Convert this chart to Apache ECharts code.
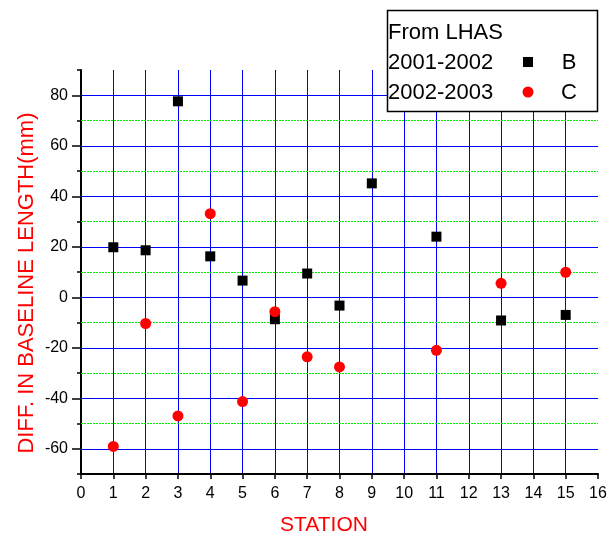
<!DOCTYPE html>
<html>
<head>
<meta charset="utf-8">
<script src="https://cdn.jsdelivr.net/npm/echarts@6/dist/echarts.min.js"></script>
<style>html,body{margin:0;padding:0;background:#fff;}#c{width:607px;height:535px;}</style>
</head>
<body>
<div id="c"></div>
<script>
const stationsB = [1, 2, 3, 4, 5, 6, 7, 8, 9, 11, 13, 15];
const valuesB = [19.8, 18.6, 77.6, 16.2, 6.6, -8.7, 9.4, -3.3, 45.1, 24.0, -9.2, -7.0];
const stationsC = [1, 2, 3, 4, 5, 6, 7, 8, 11, 13, 15];
const valuesC = [-59.1, -10.4, -47.0, 33.1, -41.3, -5.7, -23.6, -27.6, -21.0, 5.5, 9.9];
const majorY = [-60, -40, -20, 0, 20, 40, 60, 80];
const minorY = [-50, -30, -10, 10, 30, 50, 70];
const legendTitle = 'From LHAS';
const legendRows = [['2001-2002', 'B'], ['2002-2003', 'C']];
const xName = 'STATION';
const yName = 'DIFF. IN BASELINE LENGTH(mm)';

const FONT = 'Liberation Sans, Arial, sans-serif';
const chart = echarts.init(document.getElementById('c'));
const option = {
  animation: false,
  backgroundColor: '#fff',
  grid: { left: 81, right: 9, top: 70, bottom: 61, containLabel: false, outerBoundsMode: 'none' },
  xAxis: {
    type: 'value', min: 0, max: 16, interval: 1,
    axisLine: { show: true, onZero: false, lineStyle: { color: '#000', width: 2 } },
    axisTick: { show: true, length: 5, lineStyle: { color: '#000', width: 1.5 } },
    axisLabel: { color: '#000', fontSize: 16, fontFamily: FONT, margin: 12 },
    splitLine: { show: true, showMinLine: false, showMaxLine: false, lineStyle: { color: '#0000ff', width: 1 } }
  },
  yAxis: [{
    type: 'value', min: -70, max: 90, interval: 10,
    axisLine: { show: true, onZero: false, lineStyle: { color: '#000', width: 2 } },
    axisTick: { show: true, length: 4, lineStyle: { color: '#000', width: 1.5 } },
    axisLabel: { show: false },
    splitLine: { show: false }
  }, {
    type: 'value', min: -70, max: 90, interval: 10, position: 'left',
    axisLine: { show: false },
    axisTick: { show: true, length: 9, customValues: majorY, lineStyle: { color: '#000', width: 1.5 } },
    axisLabel: { show: true, customValues: majorY, color: '#000', fontSize: 16, fontFamily: FONT, margin: 13 },
    splitLine: { show: false }
  }],
  series: [
    {
      name: 'B', type: 'scatter', yAxisIndex: 0,
      data: stationsB.map((s, i) => [s, valuesB[i]]),
      symbol: 'rect', symbolSize: 10, z: 5,
      itemStyle: { color: '#000', opacity: 1 },
      markLine: {
        silent: true, symbol: 'none', label: { show: false }, z: 1,
        lineStyle: { color: '#0000ff', width: 1, type: 'solid', opacity: 1 },
        data: majorY.map(v => ({ yAxis: v }))
      }
    },
    {
      name: 'C', type: 'scatter', yAxisIndex: 0,
      data: stationsC.map((s, i) => [s, valuesC[i]]),
      symbol: 'circle', symbolSize: 11, z: 5,
      itemStyle: { color: '#ff0000', opacity: 1 },
      markLine: {
        silent: true, symbol: 'none', label: { show: false }, z: 1,
        lineStyle: { color: '#00ee00', width: 1, type: [2, 1], opacity: 1 },
        data: minorY.map(v => ({ yAxis: v }))
      }
    }
  ],
  graphic: [
    {
      type: 'text', x: 27, y: 283, rotation: Math.PI / 2, z: 10,
      style: { text: yName, fill: '#ff0000', font: '22px ' + FONT, align: 'center', verticalAlign: 'middle' }
    },
    {
      type: 'text', x: 324, y: 525, z: 10,
      style: { text: xName, fill: '#ff0000', font: '21px ' + FONT, align: 'center', verticalAlign: 'middle' }
    },
    {
      type: 'rect', shape: { x: 387.5, y: 10.5, width: 210, height: 101 }, z: 20,
      style: { fill: '#fff', stroke: '#000', lineWidth: 1.5 }
    },
    {
      type: 'text', x: 388, y: 33, z: 21,
      style: { text: legendTitle, fill: '#000', font: '22px ' + FONT, verticalAlign: 'middle' }
    },
    {
      type: 'text', x: 388, y: 63, z: 21,
      style: { text: legendRows[0][0], fill: '#000', font: '22px ' + FONT, verticalAlign: 'middle' }
    },
    {
      type: 'rect', shape: { x: 523, y: 57, width: 10, height: 10 }, z: 21,
      style: { fill: '#000' }
    },
    {
      type: 'text', x: 569, y: 63, z: 21,
      style: { text: legendRows[0][1], fill: '#000', font: '22px ' + FONT, align: 'center', verticalAlign: 'middle' }
    },
    {
      type: 'text', x: 388, y: 93, z: 21,
      style: { text: legendRows[1][0], fill: '#000', font: '22px ' + FONT, verticalAlign: 'middle' }
    },
    {
      type: 'circle', shape: { cx: 528, cy: 92, r: 5.5 }, z: 21,
      style: { fill: '#ff0000' }
    },
    {
      type: 'text', x: 569, y: 93, z: 21,
      style: { text: legendRows[1][1], fill: '#000', font: '22px ' + FONT, align: 'center', verticalAlign: 'middle' }
    }
  ]
};
chart.setOption(option);
</script>
</body>
</html>
